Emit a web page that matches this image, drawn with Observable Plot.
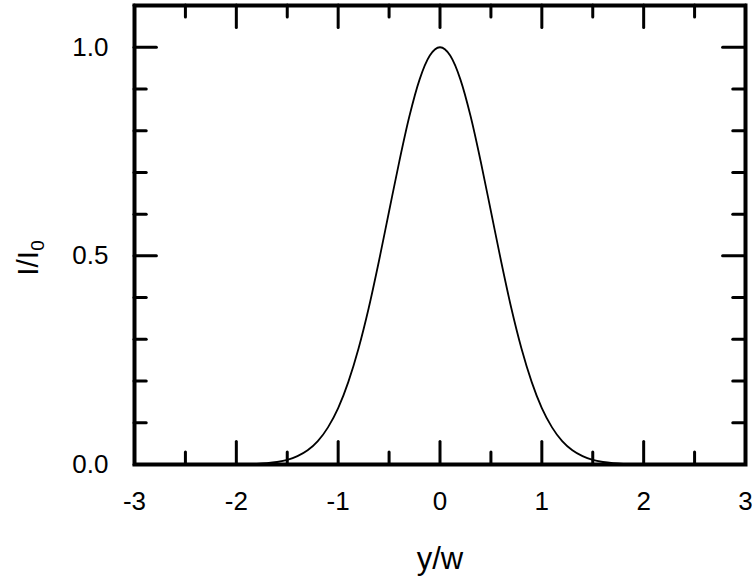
<!DOCTYPE html>
<html>
<head>
<meta charset="utf-8">
<script src="https://cdn.jsdelivr.net/npm/d3@7"></script>
<script src="https://cdn.jsdelivr.net/npm/@observablehq/plot@0.6"></script>
<style>
  html, body { margin: 0; padding: 0; background: #fff; }
  #chart svg { display: block; }
</style>
</head>
<body>
<div id="chart"></div>
<script>
// Profile (y/w vs I/I0)
const yw = [-3, -2.5, -2.2, -2.1, -2.0, -1.9, -1.8, -1.7, -1.6, -1.5, -1.4, -1.3, -1.2, -1.1, -1.0,
            -0.9, -0.8, -0.7, -0.6, -0.5, -0.4, -0.3, -0.2, -0.1, 0,
            0.1, 0.2, 0.3, 0.4, 0.5, 0.6, 0.7, 0.8, 0.9, 1.0,
            1.1, 1.2, 1.3, 1.4, 1.5, 1.6, 1.7, 1.8, 1.9, 2.0, 2.1, 2.2, 2.5, 3];
const intensity = [0, 0, 0.0001, 0.0001, 0.0003, 0.0007, 0.0015, 0.0031, 0.006, 0.011, 0.020, 0.034, 0.056, 0.089, 0.135,
            0.198, 0.278, 0.375, 0.487, 0.607, 0.726, 0.835, 0.923, 0.980, 1.0,
            0.980, 0.923, 0.835, 0.726, 0.607, 0.487, 0.375, 0.278, 0.198, 0.135,
            0.089, 0.056, 0.034, 0.020, 0.011, 0.006, 0.0031, 0.0015, 0.0007, 0.0003, 0.0001, 0.0001, 0, 0];

const xMajor = [-3, -2, -1, 0, 1, 2, 3];
const xMinor = [-2.5, -1.5, -0.5, 0.5, 1.5, 2.5];
const yMajor = [0, 0.5, 1.0];
const yMinor = [0.1, 0.2, 0.3, 0.4, 0.6, 0.7, 0.8, 0.9, 1.1];
const xLabel = "y/w";

const data = yw.map((x, i) => ({x, y: intensity[i]}));

// tick lengths in data units
const tMajY = 0.054, tMinY = 0.029;   // vertical ticks on x axes
const tMajX = 0.22, tMinX = 0.12;     // horizontal ticks on y axes
const X0 = -3, X1 = 3, Y0 = 0, Y1 = 1.1;

const tickStyle = {stroke: "black", strokeWidth: 3, strokeLinecap: "round"};
const FONT = "'Liberation Sans', Arial, Helvetica, sans-serif";

const chart = Plot.plot({
  width: 752,
  height: 578,
  marginLeft: 134,
  marginRight: 7,
  marginTop: 5,
  marginBottom: 114,
  x: {domain: [X0, X1], axis: null},
  y: {domain: [Y0, Y1], axis: null},
  style: {fontFamily: FONT, fontSize: "26px", color: "black", background: "white"},
  marks: [
    Plot.line(data, {x: "x", y: "y", stroke: "black", strokeWidth: 1.8, curve: "monotone-x"}),
    // bottom & top ticks
    Plot.ruleX(xMajor, {x: d => d, y1: Y0, y2: Y0 + tMajY, ...tickStyle}),
    Plot.ruleX(xMinor, {x: d => d, y1: Y0, y2: Y0 + tMinY, ...tickStyle}),
    Plot.ruleX(xMajor, {x: d => d, y1: Y1, y2: Y1 - tMajY, ...tickStyle}),
    Plot.ruleX(xMinor, {x: d => d, y1: Y1, y2: Y1 - tMinY, ...tickStyle}),
    // left & right ticks
    Plot.ruleY(yMajor, {y: d => d, x1: X0, x2: X0 + tMajX, ...tickStyle}),
    Plot.ruleY(yMinor, {y: d => d, x1: X0, x2: X0 + tMinX, ...tickStyle}),
    Plot.ruleY(yMajor, {y: d => d, x1: X1, x2: X1 - tMajX, ...tickStyle}),
    Plot.ruleY(yMinor, {y: d => d, x1: X1, x2: X1 - tMinX, ...tickStyle}),
    Plot.frame({stroke: "black", strokeWidth: 4}),
    Plot.text(xMajor, {x: d => d, text: d => String(d), frameAnchor: "bottom", dy: 27, lineAnchor: "top", fontSize: 26}),
    Plot.text(yMajor, {y: d => d, text: d => d3.format(".1f")(d), frameAnchor: "left", dx: -26, textAnchor: "end", fontSize: 26}),
    Plot.text([xLabel], {text: d => d, frameAnchor: "bottom", dy: 104, lineAnchor: "bottom", fontSize: 31})
  ]
});

document.getElementById("chart").appendChild(chart);

// y-axis title with subscript
const svg = d3.select(chart);
const t = svg.append("text")
  .attr("transform", "translate(38,258) rotate(-90)")
  .attr("text-anchor", "middle")
  .attr("font-family", FONT)
  .attr("font-size", 30)
  .attr("fill", "black");
t.append("tspan").text("I/I");
t.append("tspan").attr("font-size", 19).attr("dy", 6).text("0");
</script>
</body>
</html>
